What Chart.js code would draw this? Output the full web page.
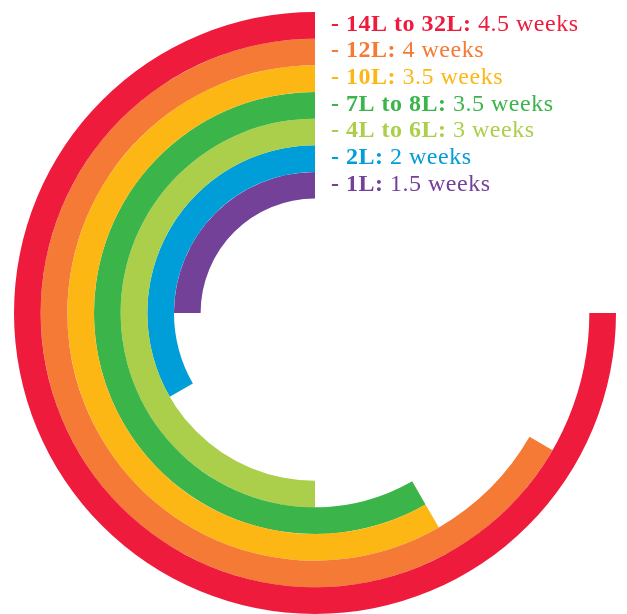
<!DOCTYPE html>
<html>
<head>
<meta charset="utf-8">
<script src="https://cdn.jsdelivr.net/npm/chart.js@4/dist/chart.umd.min.js"></script>
<style>
  html, body { margin: 0; padding: 0; background: #fff; }
  #wrap { width: 627px; height: 614px; position: relative; }
</style>
</head>
<body>
<div id="wrap"><canvas id="myChart"></canvas></div>
<script>
// size groups, outermost ring first
const sizes = ["14L to 32L", "12L", "10L", "7L to 8L", "4L to 6L", "2L", "1L"];
const weeks = [4.5, 4, 3.5, 3.5, 3, 2, 1.5];
const maxWeeks = 6;
const colors = ["#EE1B3D", "#F47A35", "#FCB715", "#3BB54A", "#ABCF4B", "#009ED9", "#744199"];

// ring labels drawn next to the top of each ring
const ringLabels = {
  id: "ringLabels",
  afterDatasetsDraw(chart) {
    const ctx = chart.ctx;
    ctx.save();
    ctx.textBaseline = "alphabetic";
    ctx.letterSpacing = "0.5px";
    sizes.forEach((name, i) => {
      const arc = chart.getDatasetMeta(i).data[1];
      const w = arc.outerRadius - arc.innerRadius;
      const x = arc.x + 16;
      const y = arc.y - arc.outerRadius + w * 0.7;
      const head = "- " + name + ": ";
      const tail = weeks[i] + " weeks";
      ctx.fillStyle = colors[i];
      ctx.font = "bold 24px 'Liberation Serif'";
      ctx.fillText(head, x, y);
      const hw = ctx.measureText(head).width;
      ctx.font = "24px 'Liberation Serif'";
      ctx.fillText(tail, x + hw, y);
    });
    ctx.restore();
  },
};

const ctx = document.getElementById("myChart").getContext("2d");
new Chart(ctx, {
  type: "doughnut",
  data: {
    labels: ["rest", "weeks"],
    datasets: sizes.map((name, i) => ({
      label: name,
      data: [maxWeeks - weeks[i], weeks[i]],
      backgroundColor: ["rgba(0,0,0,0)", colors[i]],
      borderWidth: 0,
    })),
  },
  options: {
    responsive: true,
    maintainAspectRatio: false,
    animation: false,
    cutout: "38%",
    layout: { padding: { left: 3, right: 0, top: 12, bottom: 0 } },
    events: [],
    plugins: { legend: { display: false }, tooltip: { enabled: false } },
  },
  plugins: [ringLabels],
});
</script>
</body>
</html>
